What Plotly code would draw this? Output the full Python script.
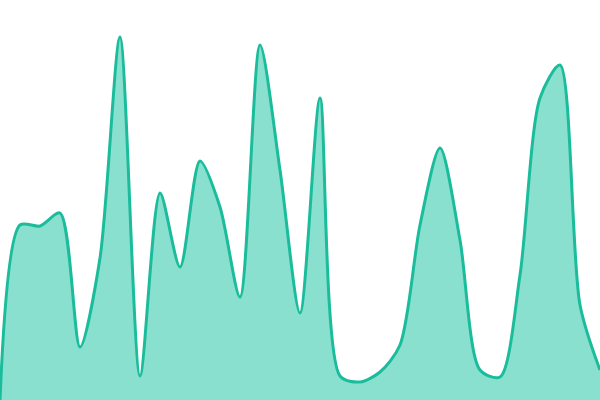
import plotly.graph_objects as go

x_vals = list(range(0, 601, 20))
y_vals = [0, 175, 174, 187, 53, 142, 363, 24, 207, 133, 239, 193, 103, 355, 230, 87,
          302, 24, 18, 28, 55, 175, 252, 160, 30, 23, 125, 302, 335, 95, 30]

fig = go.Figure(go.Scatter(
    x=x_vals, y=y_vals, mode="lines",
    line=dict(color="#1abc9c", width=3, shape="spline", smoothing=0.8),
    fill="tozeroy", fillcolor="#8ae0ce",
    hoverinfo="skip",
))
fig.update_layout(
    width=600, height=400, margin=dict(l=0, r=0, t=0, b=0),
    paper_bgcolor="white", plot_bgcolor="white", showlegend=False,
    xaxis=dict(range=[0, 600], visible=False, fixedrange=True),
    yaxis=dict(range=[0, 400], visible=False, fixedrange=True),
)
fig.write_html("out.html", config={"displayModeBar": False},
               post_script="document.body.style.margin='0';document.body.style.overflow='hidden';")
